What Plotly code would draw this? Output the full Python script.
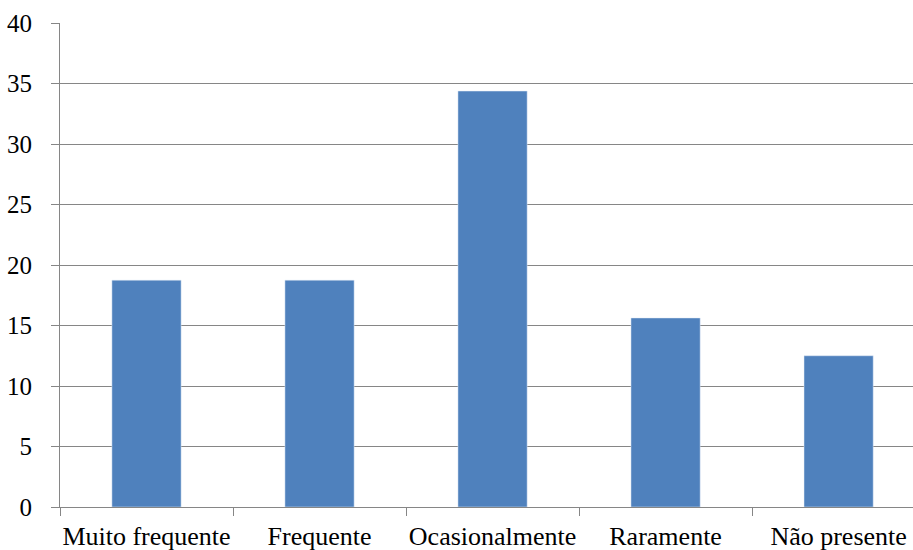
import plotly.graph_objects as go

categories = ["Muito frequente", "Frequente", "Ocasionalmente", "Raramente", "Não presente"]
values = [18.75, 18.75, 34.375, 15.625, 12.5]
y_ticks = [0, 5, 10, 15, 20, 25, 30, 35, 40]

FONT = "Times New Roman, Liberation Serif, Tinos, serif"

fig = go.Figure(go.Bar(x=categories, y=values, marker_color="#4F81BD", width=0.4))

fig.update_layout(
    width=913, height=550,
    margin=dict(l=60, r=0, t=23, b=43, autoexpand=False),
    paper_bgcolor="white", plot_bgcolor="white",
    font=dict(family=FONT, size=25, color="black"),
    showlegend=False,
    bargap=0.6,
)
fig.update_xaxes(
    range=[-0.5, 4.43], showline=True, linecolor="#868686", linewidth=1,
    ticks="outside", tickson="boundaries", ticklen=8, tickcolor="#868686",
    showgrid=False, automargin=False, tickangle=0, ticklabelstandoff=6,
    tickfont=dict(family=FONT, size=26, color="black"),
)
fig.update_yaxes(
    range=[0, 40], tickvals=y_ticks, showline=True, linecolor="#868686", linewidth=1,
    ticks="outside", ticklen=8, tickcolor="#868686",
    showgrid=True, gridcolor="#868686", gridwidth=1, zeroline=False,
    ticklabelstandoff=14, automargin=False,
    tickfont=dict(family=FONT, size=25, color="black"),
)

fig.write_html("out.html", config={"displayModeBar": False},
               post_script="document.body.style.margin='0';document.body.style.padding='0';")
